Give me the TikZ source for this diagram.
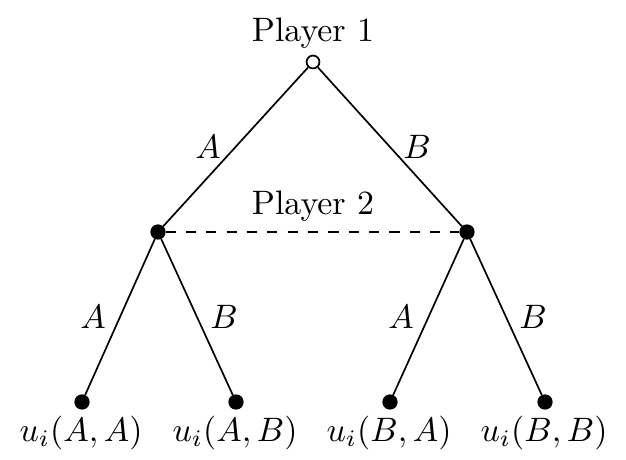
\documentclass[tikz,border=0pt]{standalone}
\begin{document}
\begin{tikzpicture}[x=0.295pt,y=-0.295pt,
  solid node/.style={circle,fill=black,draw=black,inner sep=0pt,minimum size=4.1pt},
  hollow node/.style={circle,fill=white,draw=black,line width=0.5pt,inner sep=0pt,minimum size=3.8pt},
  edge/.style={line width=0.5pt},
  lbl/.style={inner sep=0pt}]
\useasboundingbox (0,0) rectangle (626,460);
\node[hollow node] (r) at (313,62) {};
\node[lbl] (p1) at (313,33) {Player 1};
\node[solid node] (a) at (158,232) {};
\node[solid node] (b) at (467,232) {};
\node[lbl] (p2) at (313,206) {Player 2};
\node[solid node] (aa) at (82,402) {};
\node[solid node] (ab) at (236,402) {};
\node[solid node] (ba) at (390,402) {};
\node[solid node] (bb) at (545,402) {};
\draw[edge] (r) -- (a);
\draw[edge] (r) -- (b);
\draw[edge] (a) -- (aa);
\draw[edge] (a) -- (ab);
\draw[edge] (b) -- (ba);
\draw[edge] (b) -- (bb);
\draw[edge,dashed] (a) -- (b);
\node[lbl] (l1) at (208,147) {$A$};
\node[lbl] (l2) at (417,147) {$B$};
\node[lbl] (l3) at (93,317) {$A$};
\node[lbl] (l4) at (224,317) {$B$};
\node[lbl] (l5) at (401,317) {$A$};
\node[lbl] (l6) at (533,317) {$B$};
\node[lbl] (t1) at (81,433) {$u_i(A,A)$};
\node[lbl] (t2) at (235,433) {$u_i(A,B)$};
\node[lbl] (t3) at (389,433) {$u_i(B,A)$};
\node[lbl] (t4) at (544,433) {$u_i(B,B)$};
\end{tikzpicture}
\end{document}
